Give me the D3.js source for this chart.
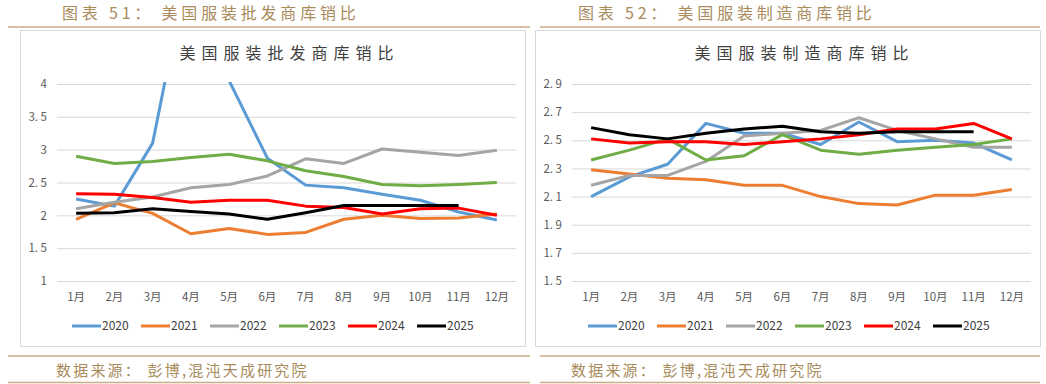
<!DOCTYPE html>
<html>
<head>
<meta charset="utf-8">
<script src="https://cdn.jsdelivr.net/npm/d3@7"></script>
<style>
  body { margin: 0; background: #fff; }
  svg text { font-family: "Noto Sans CJK SC", "DejaVu Sans", sans-serif; }
</style>
</head>
<body>
<div id="chart"></div>
<script>
// months on the x axis
var months = ["1月", "2月", "3月", "4月", "5月", "6月", "7月", "8月", "9月", "10月", "11月", "12月"];
var years = ["2020", "2021", "2022", "2023", "2024", "2025"];
var colors = ["#5b9bd5", "#ed7d31", "#a5a5a5", "#70ad47", "#ff0000", "#000000"];

// 图表51 批发商库销比
var wholesale2020 = [2.25, 2.14, 3.10, 6.00, 4.05, 2.87, 2.46, 2.42, 2.32, 2.23, 2.05, 1.93];
var wholesale2021 = [1.94, 2.19, 2.03, 1.72, 1.80, 1.71, 1.74, 1.94, 2.00, 1.95, 1.96, 2.02];
var wholesale2022 = [2.10, 2.20, 2.28, 2.42, 2.47, 2.60, 2.86, 2.79, 3.01, 2.96, 2.91, 2.99];
var wholesale2023 = [2.90, 2.79, 2.82, 2.88, 2.93, 2.83, 2.68, 2.59, 2.47, 2.45, 2.47, 2.50];
var wholesale2024 = [2.33, 2.32, 2.27, 2.20, 2.23, 2.23, 2.14, 2.12, 2.02, 2.10, 2.11, 2.00];
var wholesale2025 = [2.03, 2.04, 2.10, 2.06, 2.02, 1.94, 2.04, 2.15, 2.15, 2.15, 2.15, null];
var wholesaleTicks = [1, 1.5, 2, 2.5, 3, 3.5, 4];

// 图表52 制造商库销比
var maker2020 = [2.10, 2.24, 2.33, 2.62, 2.55, 2.55, 2.47, 2.63, 2.49, 2.50, 2.48, 2.36];
var maker2021 = [2.29, 2.26, 2.23, 2.22, 2.18, 2.18, 2.10, 2.05, 2.04, 2.11, 2.11, 2.15];
var maker2022 = [2.18, 2.25, 2.25, 2.35, 2.53, 2.55, 2.57, 2.66, 2.57, 2.51, 2.45, 2.45];
var maker2023 = [2.36, 2.43, 2.51, 2.36, 2.39, 2.54, 2.43, 2.40, 2.43, 2.45, 2.47, 2.51];
var maker2024 = [2.51, 2.48, 2.49, 2.49, 2.47, 2.49, 2.51, 2.54, 2.58, 2.58, 2.62, 2.51];
var maker2025 = [2.59, 2.54, 2.51, 2.55, 2.58, 2.60, 2.56, 2.55, 2.56, 2.56, 2.56, null];
var makerTicks = [1.5, 1.7, 1.9, 2.1, 2.3, 2.5, 2.7, 2.9];

var W = 1046, H = 384;
var gold = "#a98b5c", goldLine = "#c9ad85";

var svg = d3.select("#chart").append("svg")
    .attr("width", W)
    .attr("height", H);

function panel(opt) {
    var g = svg.append("g");

    // header
    g.append("text")
        .attr("x", opt.headX).attr("y", 19)
        .attr("fill", gold)
        .style("font-size", "16px")
        .style("letter-spacing", "3.8px")
        .text(opt.head);
    g.append("line")
        .attr("x1", opt.lineX0).attr("x2", opt.lineX1)
        .attr("y1", 27).attr("y2", 27)
        .attr("stroke", goldLine).attr("stroke-width", 1.5);

    // chart box
    g.append("rect")
        .attr("x", opt.boxX0 + 0.5).attr("y", 30.5)
        .attr("width", opt.boxX1 - opt.boxX0).attr("height", 316)
        .attr("fill", "#fff").attr("stroke", "#d9d9d9");

    g.append("text")
        .attr("x", (opt.x0 + opt.x1) / 2 + 3).attr("y", 59)
        .attr("text-anchor", "middle")
        .attr("fill", "#404040")
        .style("font-size", "16px")
        .style("letter-spacing", "6px")
        .text(opt.title);

    var x = d3.scaleBand().domain(months).range([opt.x0, opt.x1]);
    var y = d3.scaleLinear().domain(opt.domain).range([281, 84]);

    // gridlines + y labels
    var yAxis = d3.axisLeft(y).tickValues(opt.ticks).tickSize(-(opt.x1 - opt.x0))
        .tickPadding(10).tickFormat(opt.fmt);
    var ya = g.append("g").attr("transform", "translate(" + opt.x0 + ",0)").call(yAxis);
    ya.select(".domain").remove();
    ya.selectAll(".tick line").attr("stroke", "#d9d9d9");
    ya.selectAll(".tick text").attr("fill", "#595959").style("font-size", "11.5px");

    var xAxis = d3.axisBottom(x).tickSize(0).tickPadding(12);
    var xa = g.append("g").attr("transform", "translate(0,281)").call(xAxis);
    xa.select(".domain").remove();
    xa.selectAll(".tick text").attr("fill", "#595959").style("font-size", "11.5px");

    var clipId = "clip" + opt.id;
    g.append("clipPath").attr("id", clipId)
        .append("rect")
        .attr("x", opt.x0).attr("y", 82)
        .attr("width", opt.x1 - opt.x0).attr("height", 202);

    var line = d3.line()
        .defined(function (d) { return d != null; })
        .x(function (d, i) { return x(months[i]) + x.bandwidth() / 2; })
        .y(function (d) { return y(d); });

    var lines = g.append("g").attr("clip-path", "url(#" + clipId + ")");
    opt.series.forEach(function (s, i) {
        lines.append("path")
            .datum(s)
            .attr("fill", "none")
            .attr("stroke", colors[i])
            .attr("stroke-width", 3)
            .attr("stroke-linejoin", "round")
            .attr("d", line);
    });

    // legend
    var lg = g.append("g").attr("transform", "translate(" + opt.legX + ",326)");
    years.forEach(function (yr, i) {
        var item = lg.append("g").attr("transform", "translate(" + (i * 69) + ",0)");
        item.append("line")
            .attr("x1", 0).attr("x2", 29)
            .attr("stroke", colors[i]).attr("stroke-width", 3);
        item.append("text")
            .attr("x", 30).attr("dy", "0.35em")
            .attr("fill", "#404040")
            .style("font-size", "12px")
            .text(yr);
    });

    // footer
    g.append("line")
        .attr("x1", opt.lineX0).attr("x2", opt.lineX1)
        .attr("y1", 356).attr("y2", 356)
        .attr("stroke", goldLine).attr("stroke-width", 1.5);
    g.append("text")
        .attr("x", opt.footX).attr("y", 376)
        .attr("fill", gold)
        .style("font-size", "15px")
        .style("letter-spacing", "2.2px")
        .text("数据来源： 彭博,混沌天成研究院");
    g.append("line")
        .attr("x1", opt.lineX0).attr("x2", opt.lineX1)
        .attr("y1", 382.5).attr("y2", 382.5)
        .attr("stroke", goldLine).attr("stroke-width", 1.5);
}

panel({
    id: 51,
    head: "图表 51： 美国服装批发商库销比",
    headX: 62, lineX0: 8, lineX1: 530,
    boxX0: 20, boxX1: 525,
    title: "美国服装批发商库销比",
    x0: 57, x1: 516,
    domain: [1, 4], ticks: wholesaleTicks,
    fmt: function (d) { return String(d).replace(".", ". "); },
    series: [wholesale2020, wholesale2021, wholesale2022, wholesale2023, wholesale2024, wholesale2025],
    legX: 72, footX: 56
});

panel({
    id: 52,
    head: "图表 52： 美国服装制造商库销比",
    headX: 578, lineX0: 540, lineX1: 1040,
    boxX0: 535, boxX1: 1040,
    title: "美国服装制造商库销比",
    x0: 572, x1: 1031,
    domain: [1.5, 2.9], ticks: makerTicks,
    fmt: function (d) { return d3.format(".1f")(d).replace(".", ". "); },
    series: [maker2020, maker2021, maker2022, maker2023, maker2024, maker2025],
    legX: 588, footX: 571
});
</script>
</body>
</html>
